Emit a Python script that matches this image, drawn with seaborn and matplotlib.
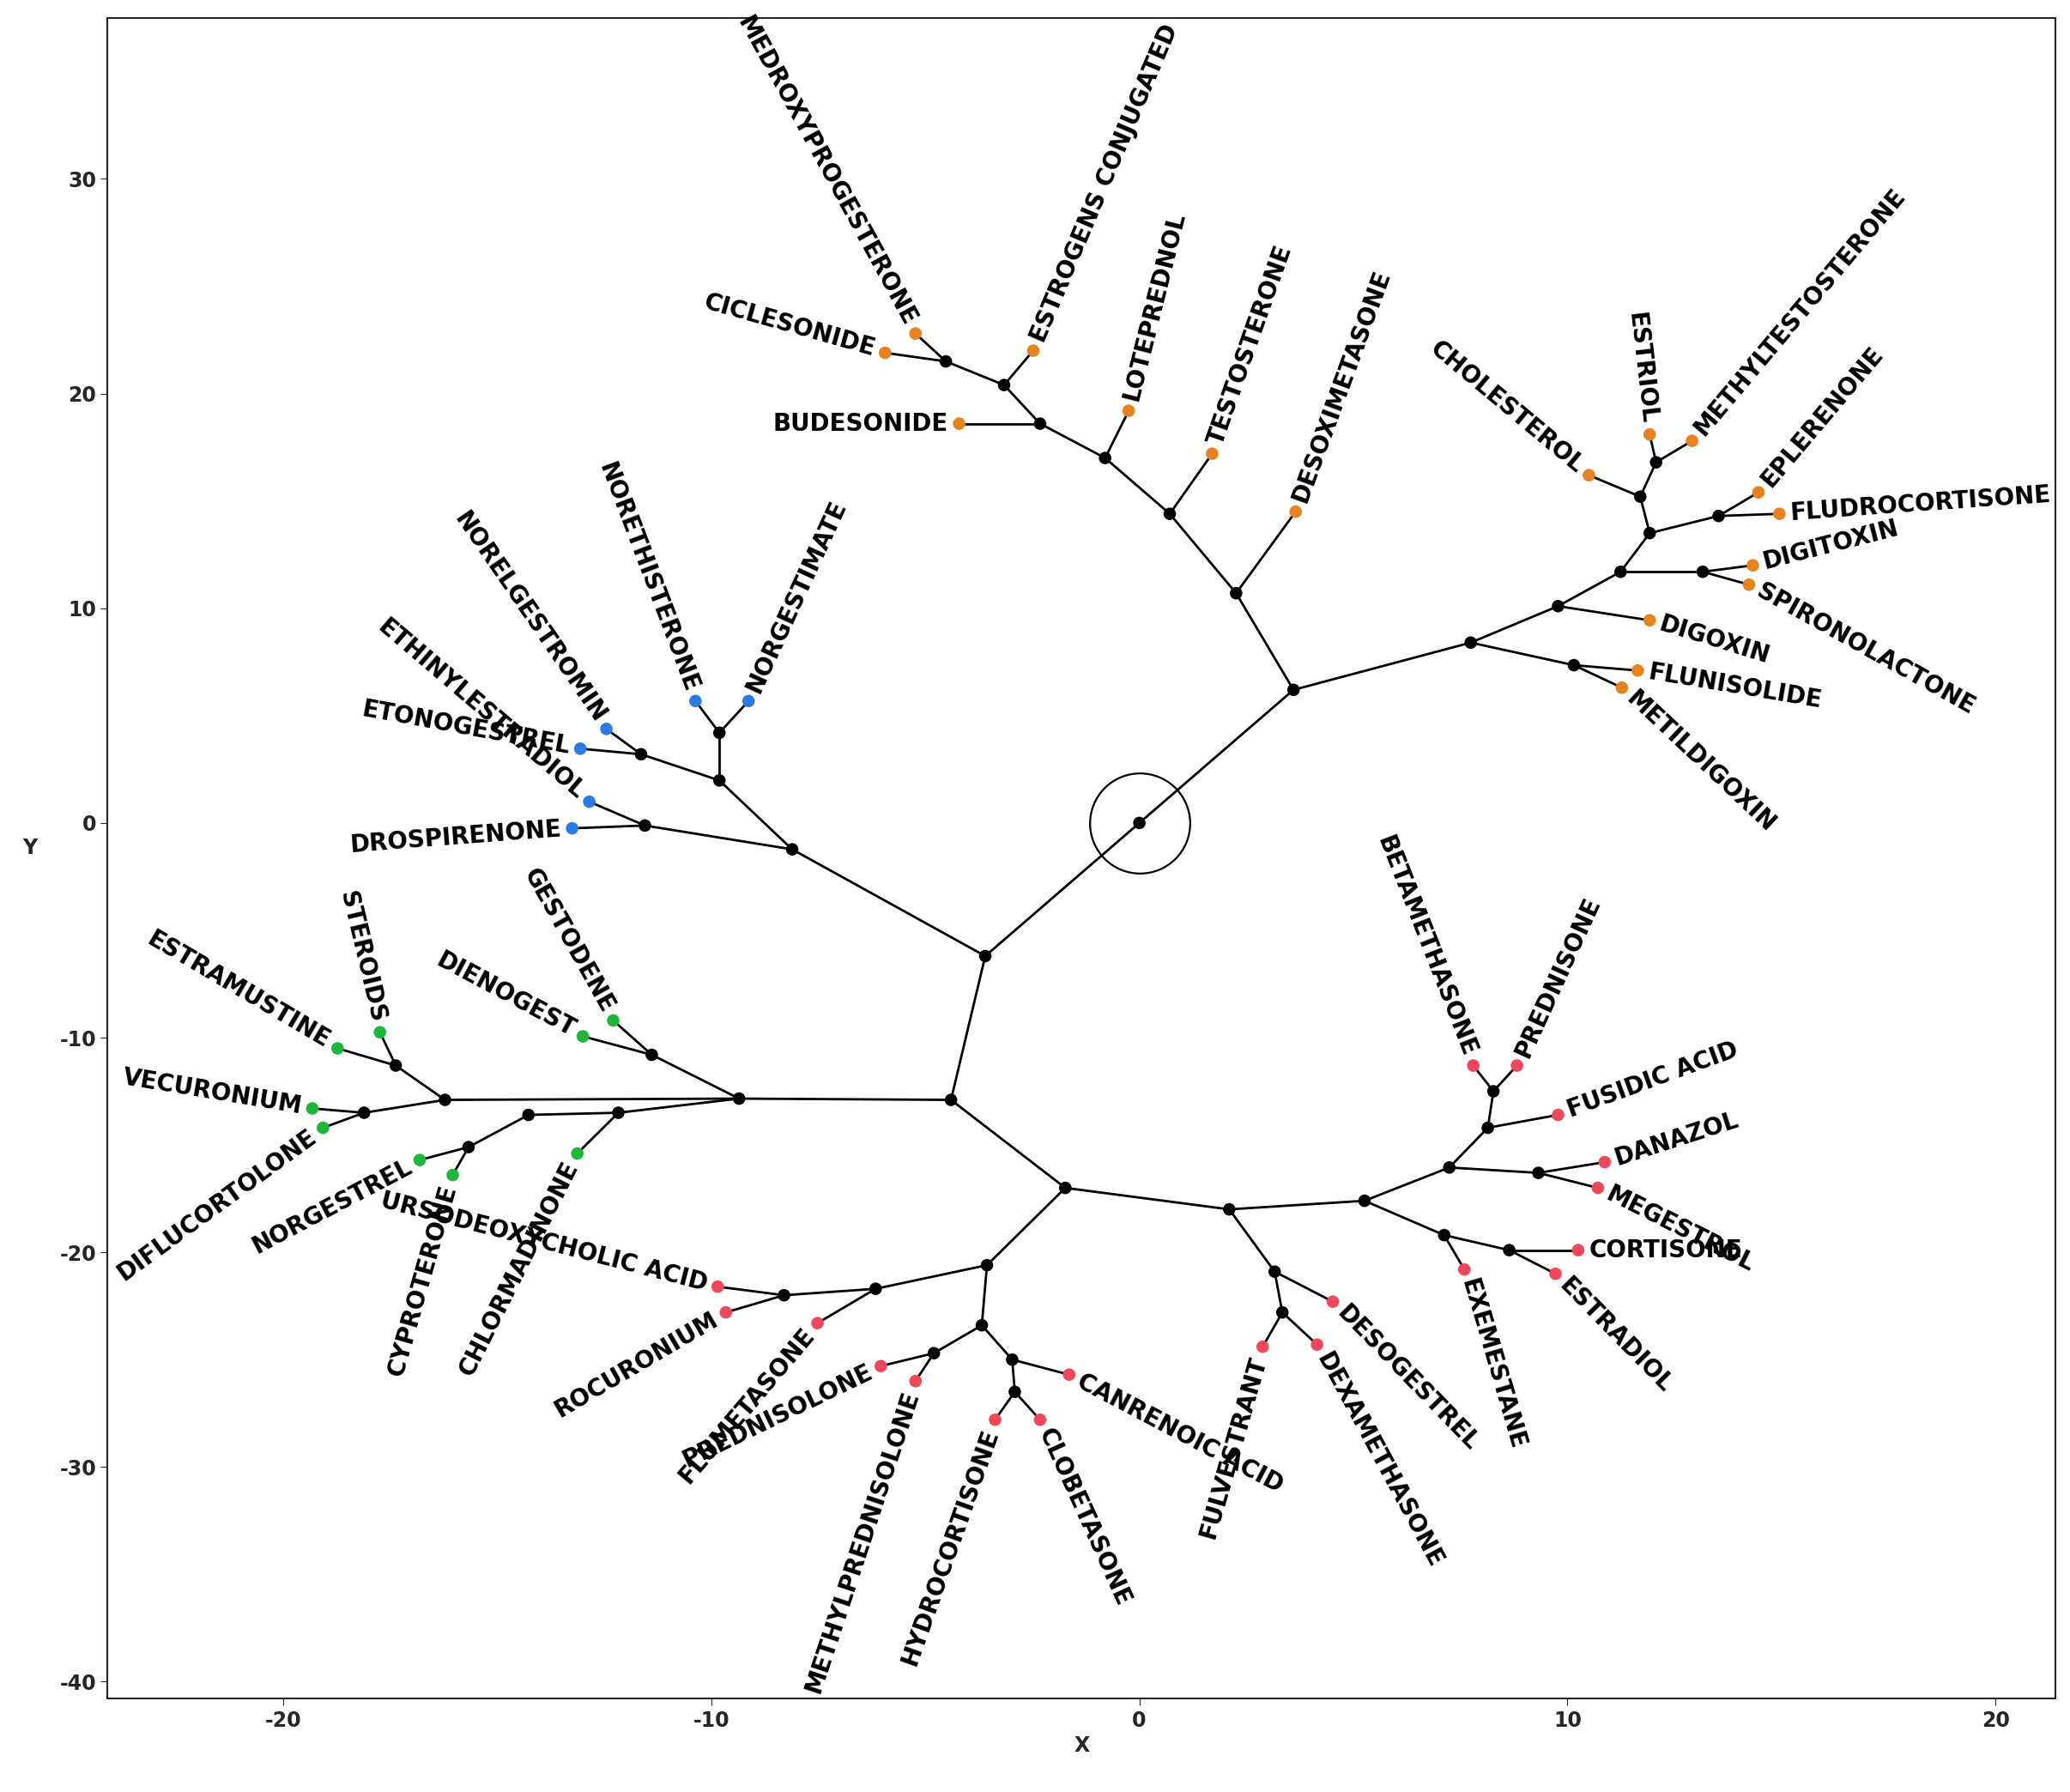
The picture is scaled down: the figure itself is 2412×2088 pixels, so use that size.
import numpy as np
import matplotlib
matplotlib.use("Agg")
import matplotlib.pyplot as plt
import seaborn as sns

sns.set_style("white")
plt.rcParams['font.family'] = ['DejaVu Sans']

# tree nodes: name, parent, x, y (internal nodes have children)
node_names = ["root", "A", "B",
    "A1", "A2", "DESOXIMETASONE", "A1a", "TESTOSTERONE", "A1b", "LOTEPREDNOL", "A1c",
    "A1d", "BUDESONIDE", "ESTROGENS CONJUGATED", "A1e", "CICLESONIDE", "MEDROXYPROGESTERONE",
    "A2a", "A2b", "DIGOXIN", "A2c", "A2d", "A2e", "DIGITOXIN", "SPIRONOLACTONE",
    "A2f", "A2g", "EPLERENONE", "FLUDROCORTISONE", "CHOLESTEROL", "A2h", "ESTRIOL",
    "METHYLTESTOSTERONE", "FLUNISOLIDE", "METILDIGOXIN",
    "B1", "B2", "B1a", "B1b", "DROSPIRENONE", "ETHINYLESTRADIOL", "B1c", "B1d",
    "NORETHISTERONE", "NORGESTIMATE", "ETONOGESTREL", "NORELGESTROMIN",
    "B2a", "B2b", "B2c", "B2d", "B2e", "B2f", "GESTODENE", "DIENOGEST", "CHLORMADINONE",
    "B2g", "NORGESTREL", "CYPROTERONE", "B2h", "B2i", "ESTRAMUSTINE", "STEROIDS",
    "VECURONIUM", "DIFLUCORTOLONE",
    "B2j", "B2k", "B2l", "B2m", "B2n", "FLUMETASONE", "URSODEOXYCHOLIC ACID", "ROCURONIUM",
    "B2o", "B2p", "PREDNISOLONE", "METHYLPREDNISOLONE", "CANRENOIC ACID", "B2q",
    "HYDROCORTISONE", "CLOBETASONE",
    "B2r", "B2s", "DESOGESTREL", "B2t", "FULVESTRANT", "DEXAMETHASONE",
    "B2u", "B2v", "EXEMESTANE", "B2w", "CORTISONE", "ESTRADIOL", "B2x", "B2y",
    "DANAZOL", "MEGESTROL", "FUSIDIC ACID", "B2z", "BETAMETHASONE", "PREDNISONE"]
node_parent = [None, "root", "root",
    "A", "A", "A1", "A1", "A1a", "A1a", "A1b", "A1b",
    "A1c", "A1c", "A1d", "A1d", "A1e", "A1e",
    "A2", "A2", "A2a", "A2a", "A2c", "A2c", "A2e", "A2e",
    "A2d", "A2d", "A2g", "A2g", "A2f", "A2f", "A2h",
    "A2h", "A2b", "A2b",
    "B", "B", "B1", "B1", "B1b", "B1b", "B1a", "B1a",
    "B1d", "B1d", "B1c", "B1c",
    "B2", "B2", "B2a", "B2a", "B2a", "B2c", "B2e", "B2e", "B2c",
    "B2f", "B2g", "B2g", "B2d", "B2d", "B2h", "B2h",
    "B2i", "B2i",
    "B2b", "B2b", "B2j", "B2j", "B2l", "B2l", "B2n", "B2n",
    "B2m", "B2m", "B2o", "B2o", "B2p", "B2p",
    "B2q", "B2q",
    "B2k", "B2k", "B2r", "B2r", "B2t", "B2t",
    "B2s", "B2s", "B2v", "B2v", "B2w", "B2w", "B2u", "B2u",
    "B2y", "B2y", "B2x", "B2x", "B2z", "B2z"]
node_x = [0, 3.6, -3.6,
    2.26, 7.74, 3.65, 0.71, 1.70, -0.80, -0.25, -2.32,
    -3.16, -4.21, -2.48, -4.52, -5.94, -5.23,
    9.78, 10.15, 11.92, 11.24, 11.92, 13.16, 14.33, 14.24,
    11.70, 13.53, 14.46, 14.95, 10.50, 12.07, 11.92,
    12.91, 11.64, 11.27,
    -8.11, -4.40, -9.81, -11.55, -13.25, -12.85, -11.64, -9.81,
    -10.37, -9.13, -13.06, -12.45,
    -9.35, -1.73, -12.17, -16.22, -11.39, -14.27, -12.29, -13.0, -13.13,
    -15.67, -16.81, -16.04, -17.37, -18.11, -18.73, -17.74,
    -19.32, -19.07,
    -3.56, 2.10, -6.16, -3.68, -8.30, -7.52, -9.85, -9.66,
    -4.80, -2.97, -6.04, -5.23, -1.64, -2.91,
    -3.37, -2.32,
    3.16, 5.26, 4.52, 3.34, 2.88, 4.15,
    7.24, 7.12, 7.59, 8.64, 10.25, 9.72, 8.14, 9.32,
    10.87, 10.71, 9.78, 8.27, 7.80, 8.82]
node_y = [0, 6.2, -6.2,
    10.7, 8.4, 14.5, 14.4, 17.2, 17.0, 19.2, 18.6,
    20.4, 18.6, 22.0, 21.5, 21.9, 22.8,
    10.1, 7.35, 9.44, 11.7, 13.5, 11.7, 12.0, 11.1,
    15.2, 14.3, 15.4, 14.4, 16.2, 16.8, 18.1,
    17.8, 7.1, 6.3,
    -1.23, -12.9, 1.98, -0.12, -0.25, 0.99, 3.2, 4.2,
    5.68, 5.68, 3.46, 4.38,
    -12.84, -17.0, -13.5, -12.9, -10.8, -13.6, -9.2, -9.94, -15.4,
    -15.1, -15.7, -16.4, -11.3, -13.5, -10.5, -9.75,
    -13.3, -14.2,
    -20.6, -18.0, -21.7, -23.4, -22.0, -23.3, -21.6, -22.8,
    -24.7, -25.0, -25.3, -26.0, -25.7, -26.5,
    -27.8, -27.8,
    -20.9, -17.6, -22.3, -22.8, -24.4, -24.3,
    -16.05, -19.2, -20.8, -19.9, -19.9, -21.0, -14.2, -16.3,
    -15.8, -17.0, -13.6, -12.5, -11.3, -11.3]

group_color = {"A": "#E8821E", "B1": "#2C7BE5", "B2a": "#1DB83A", "B2b": "#F0485A"}

pos = {n: (x, y) for n, x, y in zip(node_names, node_x, node_y)}
par = dict(zip(node_names, node_parent))
children = set(p for p in node_parent if p)

def leaf_color(n):
    p = par[n]
    while p is not None:
        if p in group_color:
            return group_color[p]
        p = par[p]
    return "black"

fig, ax = plt.subplots(figsize=(24.12, 20.88), dpi=100)
fig.subplots_adjust(left=0.052, right=0.993, top=0.99, bottom=0.052)
ax.set_xlim(-24.1, 21.4)
ax.set_ylim(-40.8, 37.5)

for n in node_names:
    p = par[n]
    if p:
        ax.plot([pos[p][0], pos[n][0]], [pos[p][1], pos[n][1]], color="black", lw=2, zorder=1)

internal = [n for n in node_names if n in children]
leaves = [n for n in node_names if n not in children]
sns.scatterplot(x=[pos[n][0] for n in internal], y=[pos[n][1] for n in internal],
                color="black", s=110, edgecolor="none", ax=ax, zorder=3)
sns.scatterplot(x=[pos[n][0] for n in leaves], y=[pos[n][1] for n in leaves],
                c=[leaf_color(n) for n in leaves], s=110, edgecolor="none", ax=ax, zorder=3)
ax.plot([0], [0], marker="o", ms=84, mfc="none", mec="black", mew=1.6, zorder=2)

for n in leaves:
    p = par[n]
    # label angle follows the edge in data units
    dxd = pos[n][0] - pos[p][0]
    dyd = pos[n][1] - pos[p][1]
    ang = np.degrees(np.arctan2(dyd, dxd))
    ux, uy = np.cos(np.radians(ang)), np.sin(np.radians(ang))
    off = 9
    if -90 <= ang <= 90:
        rot, ha = ang, "left"
    else:
        rot, ha = ang - 180, "right"
    ax.annotate(n, pos[n], xytext=(ux * off, uy * off), textcoords="offset points",
                rotation=rot, rotation_mode="anchor", ha=ha, va="center",
                fontsize=20, fontweight="bold", color="black", zorder=4)

ax.set_xlabel("X", fontsize=17, fontweight="bold")
ax.set_ylabel("Y", fontsize=17, fontweight="bold", rotation=0, labelpad=25)
ax.set_xticks([-20, -10, 0, 10, 20])
ax.set_yticks([-40, -30, -20, -10, 0, 10, 20, 30])
ax.set_xticklabels(["-20", "-10", "0", "10", "20"])
ax.set_yticklabels(["-40", "-30", "-20", "-10", "0", "10", "20", "30"])
ax.tick_params(labelsize=17, length=6, direction="out", bottom=True, left=True)
for t in ax.get_xticklabels() + ax.get_yticklabels():
    t.set_fontweight("bold")
for s in ax.spines.values():
    s.set_linewidth(1.5)

fig.savefig("out.png", dpi=100)
